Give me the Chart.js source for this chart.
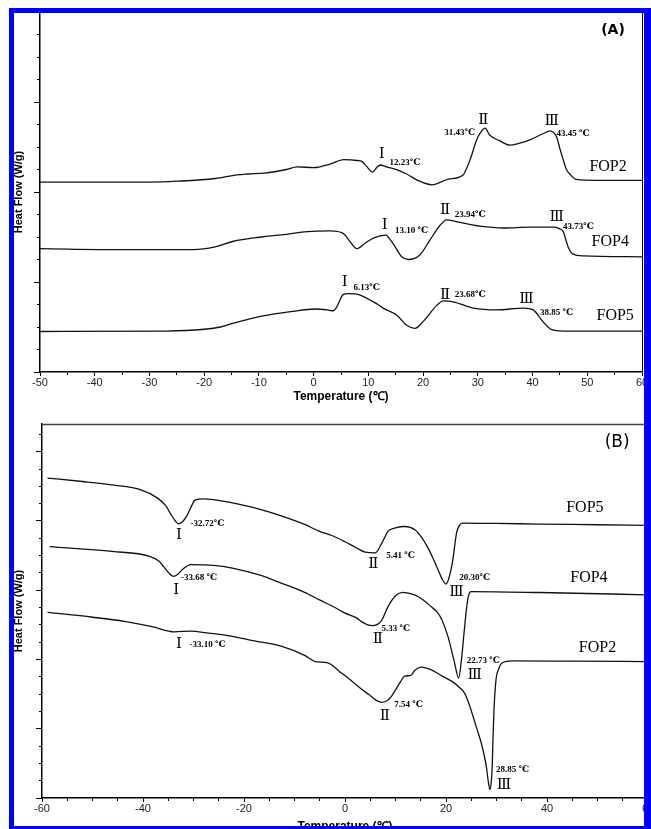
<!DOCTYPE html>
<html><head><meta charset="utf-8">
<script src="https://cdn.jsdelivr.net/npm/chart.js@4.4.1/dist/chart.umd.min.js"></script>
<style>
html,body{margin:0;padding:0;background:#fff;}
body{width:651px;height:829px;overflow:hidden;position:relative;}
#wa{position:absolute;left:0;top:0;width:651px;height:410px;}
#wb{position:absolute;left:0;top:410px;width:651px;height:440px;}
#frame{position:absolute;left:9px;top:8px;width:642px;height:821px;box-sizing:border-box;border-style:solid;border-color:#0000fe;border-width:5px 7px 3px 5px;pointer-events:none;z-index:5;}
</style></head><body>
<div id="wa"><canvas id="ca" width="651" height="410"></canvas></div>
<div id="wb"><canvas id="cb" width="651" height="440"></canvas></div>
<div id="frame"></div>
<script>
// ---- Panel (A) data: [temperature, heat flow (arbitrary offset units)] ----
const A_FOP2 = [[-50,2.11],[-30,2.11],[-25,2.12],[-18,2.15],[-14,2.19],[-12,2.20],[-9,2.21],[-5,2.25],[-3,2.28],[0,2.27],[3,2.31],[5.5,2.36],[8,2.35],[8.8,2.34],[9.6,2.29],[10.8,2.22],[11.5,2.27],[12.2,2.30],[13.3,2.28],[15.5,2.24],[17,2.20],[19,2.13],[21.6,2.08],[24.5,2.14],[27.3,2.19],[28.0,2.27],[28.6,2.36],[29.8,2.58],[30.6,2.67],[31.3,2.71],[32.2,2.63],[34,2.57],[35.9,2.52],[37.5,2.54],[39.5,2.58],[42,2.65],[43.2,2.68],[44.4,2.61],[45.0,2.48],[45.6,2.36],[46.2,2.25],[46.8,2.20],[48,2.14],[51.7,2.13],[60,2.13]];
const A_FOP4 = [[-50,1.37],[-35,1.36],[-22,1.36],[-18,1.39],[-14.8,1.45],[-9.5,1.50],[-5,1.53],[-1.2,1.56],[3.0,1.567],[5.4,1.54],[6.5,1.46],[7.9,1.37],[9.4,1.43],[11,1.49],[13.2,1.52],[14.0,1.47],[14.9,1.39],[16.1,1.28],[17.3,1.25],[19.4,1.30],[21.3,1.47],[23.1,1.63],[24.3,1.69],[26.1,1.67],[30.4,1.62],[34.7,1.60],[39.5,1.61],[44.0,1.61],[45.0,1.59],[45.6,1.56],[46.5,1.39],[47.4,1.31],[49.3,1.29],[60,1.28]];
const A_FOP5 = [[-50,0.45],[-27,0.455],[-20,0.475],[-17,0.50],[-14.8,0.54],[-12,0.585],[-9.5,0.62],[-4.2,0.67],[0.3,0.70],[2.5,0.69],[3.6,0.68],[4.2,0.72],[5.4,0.86],[6.3,0.87],[8.5,0.855],[10.3,0.80],[11.5,0.76],[12.7,0.71],[15.2,0.63],[17.0,0.52],[18.5,0.485],[20.0,0.56],[22.5,0.74],[23.7,0.79],[25.5,0.78],[29.2,0.71],[33.4,0.69],[38.3,0.71],[40.1,0.69],[41.9,0.56],[43.5,0.47],[45.6,0.455],[60,0.455]];
// ---- Panel (B) data ----
const B_FOP5 = [[-58.9,4.62],[-52,4.57],[-46.1,4.52],[-40.4,4.45],[-37.1,4.33],[-35.5,4.22],[-34.6,4.11],[-33.6,4.0],[-33.0,3.96],[-32.2,3.99],[-31.35,4.07],[-30.5,4.2],[-29.7,4.30],[-28.1,4.32],[-22.3,4.26],[-17,4.17],[-12.5,4.07],[-8,3.95],[-5.05,3.85],[-2.6,3.79],[0,3.70],[2.3,3.61],[4.0,3.55],[6.0,3.54],[7.3,3.68],[8.5,3.85],[10,3.90],[11.8,3.92],[13.9,3.87],[15.2,3.76],[16.3,3.63],[17.5,3.45],[18.4,3.30],[19.3,3.15],[20.0,3.09],[20.6,3.18],[21.25,3.39],[22.1,3.83],[22.6,3.93],[23.3,3.97],[30,3.965],[38.5,3.955],[50,3.945],[59.8,3.935]];
const B_FOP4 = [[-58.5,3.63],[-46.1,3.56],[-38.7,3.49],[-36.8,3.42],[-35.9,3.34],[-34.9,3.25],[-34,3.20],[-33.1,3.23],[-32.2,3.30],[-30.5,3.37],[-26,3.36],[-22.3,3.32],[-17,3.22],[-12.5,3.10],[-8,2.97],[-5.05,2.86],[-2,2.75],[0,2.67],[2.3,2.60],[3.2,2.55],[4.5,2.50],[5.6,2.49],[6.5,2.51],[7.3,2.57],[8.5,2.76],[10,2.92],[11.4,2.97],[13.9,2.93],[15.5,2.86],[17.1,2.76],[18.3,2.68],[19.2,2.57],[20.4,2.33],[21.2,2.10],[21.7,1.95],[22.5,1.73],[23.05,1.99],[23.4,2.25],[23.7,2.48],[24.1,2.76],[24.5,2.93],[24.95,2.98],[38.5,2.967],[59.8,2.934]];
const B_FOP2 = [[-58.9,2.68],[-50,2.61],[-43.7,2.55],[-38,2.47],[-33.8,2.40],[-30.5,2.41],[-27,2.38],[-24,2.355],[-18,2.27],[-12.5,2.19],[-8,2.06],[-5.9,1.97],[-3.4,1.95],[-1,1.82],[1.5,1.68],[3.3,1.57],[4.8,1.49],[6.2,1.41],[7.3,1.38],[8.2,1.40],[8.9,1.44],[10,1.56],[11,1.68],[11.8,1.76],[13.0,1.77],[13.8,1.84],[15.1,1.89],[17.1,1.85],[19,1.77],[21.25,1.68],[22.6,1.60],[23.7,1.51],[24.6,1.35],[25.35,1.18],[26.2,0.98],[27.0,0.79],[27.6,0.60],[28.0,0.45],[28.35,0.25],[28.7,0.12],[28.95,0.22],[29.15,0.45],[29.3,0.85],[29.5,1.27],[29.9,1.71],[30.4,1.86],[31.1,1.95],[33.2,1.98],[45,1.975],[59.8,1.97]];

const A_X_LABELS = [-50,-40,-30,-20,-10,0,10,20,30,40,50,60];
const B_X_LABELS = [-60,-40,-20,0,20,40,60];
const X_TITLE = 'Temperature (℃)';
const Y_TITLE = 'Heat Flow (W/g)';

// annotations: [text, temperature, value, kind]
const A_NOTES = [
  ['Ⅰ',12.43,2.42,'num'],['12.23℃',16.7,2.33,'temp'],['Ⅱ',31.0,2.80,'num'],['31.43℃',26.7,2.66,'temp'],['Ⅲ',43.5,2.79,'num'],['43.45 ℃',47.4,2.645,'temp'],['FOP2',53.8,2.28,'name'],
  ['Ⅰ',13.0,1.63,'num'],['13.10 ℃',17.9,1.57,'temp'],['Ⅱ',24.0,1.80,'num'],['23.94℃',28.6,1.745,'temp'],['Ⅲ',44.4,1.725,'num'],['43.73℃',48.4,1.615,'temp'],['FOP4',54.2,1.45,'name'],
  ['Ⅰ',5.7,1.0,'num'],['6.13℃',9.7,0.94,'temp'],['Ⅱ',24.0,0.855,'num'],['23.68℃',28.6,0.855,'temp'],['Ⅲ',38.9,0.81,'num'],['38.85 ℃',44.4,0.66,'temp'],['FOP5',55.1,0.63,'name'],
  ['(A)',54.7,3.8,'panelA']
];
const B_NOTES = [
  ['-32.72℃',-27.2,3.96,'temp'],['Ⅰ',-32.9,3.79,'num'],['5.41 ℃',11.0,3.50,'temp'],['Ⅱ',5.6,3.38,'num'],['20.30℃',25.7,3.175,'temp'],['Ⅲ',22.1,2.97,'num'],['FOP5',47.5,4.19,'name'],
  ['-33.68 ℃',-28.9,3.175,'temp'],['Ⅰ',-33.4,3.0,'num'],['5.33 ℃',10.1,2.44,'temp'],['Ⅱ',6.5,2.30,'num'],['22.73 ℃',27.4,1.99,'temp'],['Ⅲ',25.7,1.78,'num'],['FOP4',48.3,3.175,'name'],
  ['Ⅰ',-32.9,2.22,'num'],['-33.10 ℃',-27.2,2.22,'temp'],['7.54 ℃',12.6,1.345,'temp'],['Ⅱ',7.9,1.185,'num'],['28.85 ℃',33.2,0.405,'temp'],['Ⅲ',31.5,0.19,'num'],['FOP2',50.0,2.175,'name'],
  ['(B)',53.9,5.13,'panelB']
];

const FONTS = {
  num: '15px "Liberation Serif", "DejaVu Serif", serif',
  temp: 'bold 9px "Liberation Serif", "DejaVu Serif", serif',
  name: '16px "Liberation Serif", "DejaVu Serif", serif',
  panelA: 'bold 14px "DejaVu Sans", sans-serif',
  panelB: '17px "DejaVu Sans", sans-serif'
};
const SANS = '"Liberation Sans", Arial, sans-serif';

function notesPlugin(notes, frameSide, frameColor, frameWidth) {
  return {
    id: 'notes',
    afterDraw(chart) {
      const ctx = chart.ctx, xs = chart.scales.x, ys = chart.scales.y, ca = chart.chartArea;
      ctx.save();
      ctx.strokeStyle = frameColor; ctx.lineWidth = frameWidth;
      ctx.beginPath();
      if (frameSide === 'right') { ctx.moveTo(ca.right + 0.5, ca.top); ctx.lineTo(ca.right + 0.5, ca.bottom); }
      else { ctx.moveTo(ca.left, ca.top + 0.5); ctx.lineTo(ca.right, ca.top + 0.5); }
      ctx.stroke();
      ctx.fillStyle = '#000'; ctx.textAlign = 'center'; ctx.textBaseline = 'middle';
      for (const [text, t, v, kind] of notes) {
        ctx.font = FONTS[kind];
        ctx.fillText(text, xs.getPixelForValue(t), ys.getPixelForValue(v));
      }
      ctx.restore();
    }
  };
}

function xScale(min, max, labeled, height, titlePad) {
  return {
    type: 'linear', min, max, position: 'bottom',
    afterFit(s) { s.height = height; s.paddingLeft = 0; s.paddingRight = 0; },
    border: { display: true, color: '#000', width: 1.5 },
    grid: { display: true, drawOnChartArea: false, drawTicks: true, tickLength: 4, tickColor: '#000', tickWidth: 1,
      tickBorderDash: (c) => (c.tick && labeled.includes(c.tick.value)) ? [] : [2.5, 20] },
    ticks: { stepSize: 5, autoSkip: false, maxRotation: 0, minRotation: 0, padding: 0, color: '#222',
      font: { family: SANS, size: 11 },
      callback: (v) => labeled.includes(v) ? String(v) : '' },
    title: { display: true, text: X_TITLE, color: '#000', font: { family: SANS, size: 12, weight: 'bold' }, padding: { top: 0, bottom: titlePad } }
  };
}
function yScale(max, width) {
  return {
    type: 'linear', min: 0, max, position: 'left',
    afterFit(s) { s.width = width; s.paddingTop = 0; s.paddingBottom = 0; },
    border: { display: true, color: '#000', width: 1.5 },
    grid: { display: true, drawOnChartArea: false, drawTicks: true, tickLength: 6, tickColor: '#000', tickWidth: 1,
      tickBorderDash: (c) => (c.tick && Math.abs(c.tick.value - Math.round(c.tick.value)) < 1e-6) ? [] : [0, 3, 3, 20] },
    ticks: { display: false, stepSize: 0.25, includeBounds: false, autoSkip: false },
    title: { display: true, text: Y_TITLE, color: '#000', font: { family: SANS, size: 11, weight: 'bold' }, padding: { top: 12.4, bottom: 0 } }
  };
}
function ds(pts) {
  return { data: pts.map(([x, y]) => ({ x, y })), borderColor: '#111', borderWidth: 1.3, pointRadius: 0, fill: false, cubicInterpolationMode: 'monotone' };
}
function common(padding) {
  return { responsive: false, animation: false, devicePixelRatio: 1,
    layout: { autoPadding: false, padding },
    plugins: { legend: { display: false }, tooltip: { enabled: false } } };
}

new Chart(document.getElementById('ca'), {
  type: 'line',
  data: { datasets: [ds(A_FOP2), ds(A_FOP4), ds(A_FOP5)] },
  options: Object.assign(common({ left: 0, top: 12, right: 9, bottom: 0 }), {
    scales: { x: xScale(-50, 60, A_X_LABELS, 38, 6), y: yScale(4, 40) } }),
  plugins: [notesPlugin(A_NOTES, 'right', '#000', 1)]
});
new Chart(document.getElementById('cb'), {
  type: 'line',
  data: { datasets: [ds(B_FOP5), ds(B_FOP4), ds(B_FOP2)] },
  options: Object.assign(common({ left: 0, top: 14, right: 3, bottom: 0 }), {
    scales: { x: xScale(-60, 60, B_X_LABELS, 52, 15.8), y: yScale(5.4, 42) } }),
  plugins: [notesPlugin(B_NOTES, 'top', '#444', 1.5)]
});
</script></body></html>
